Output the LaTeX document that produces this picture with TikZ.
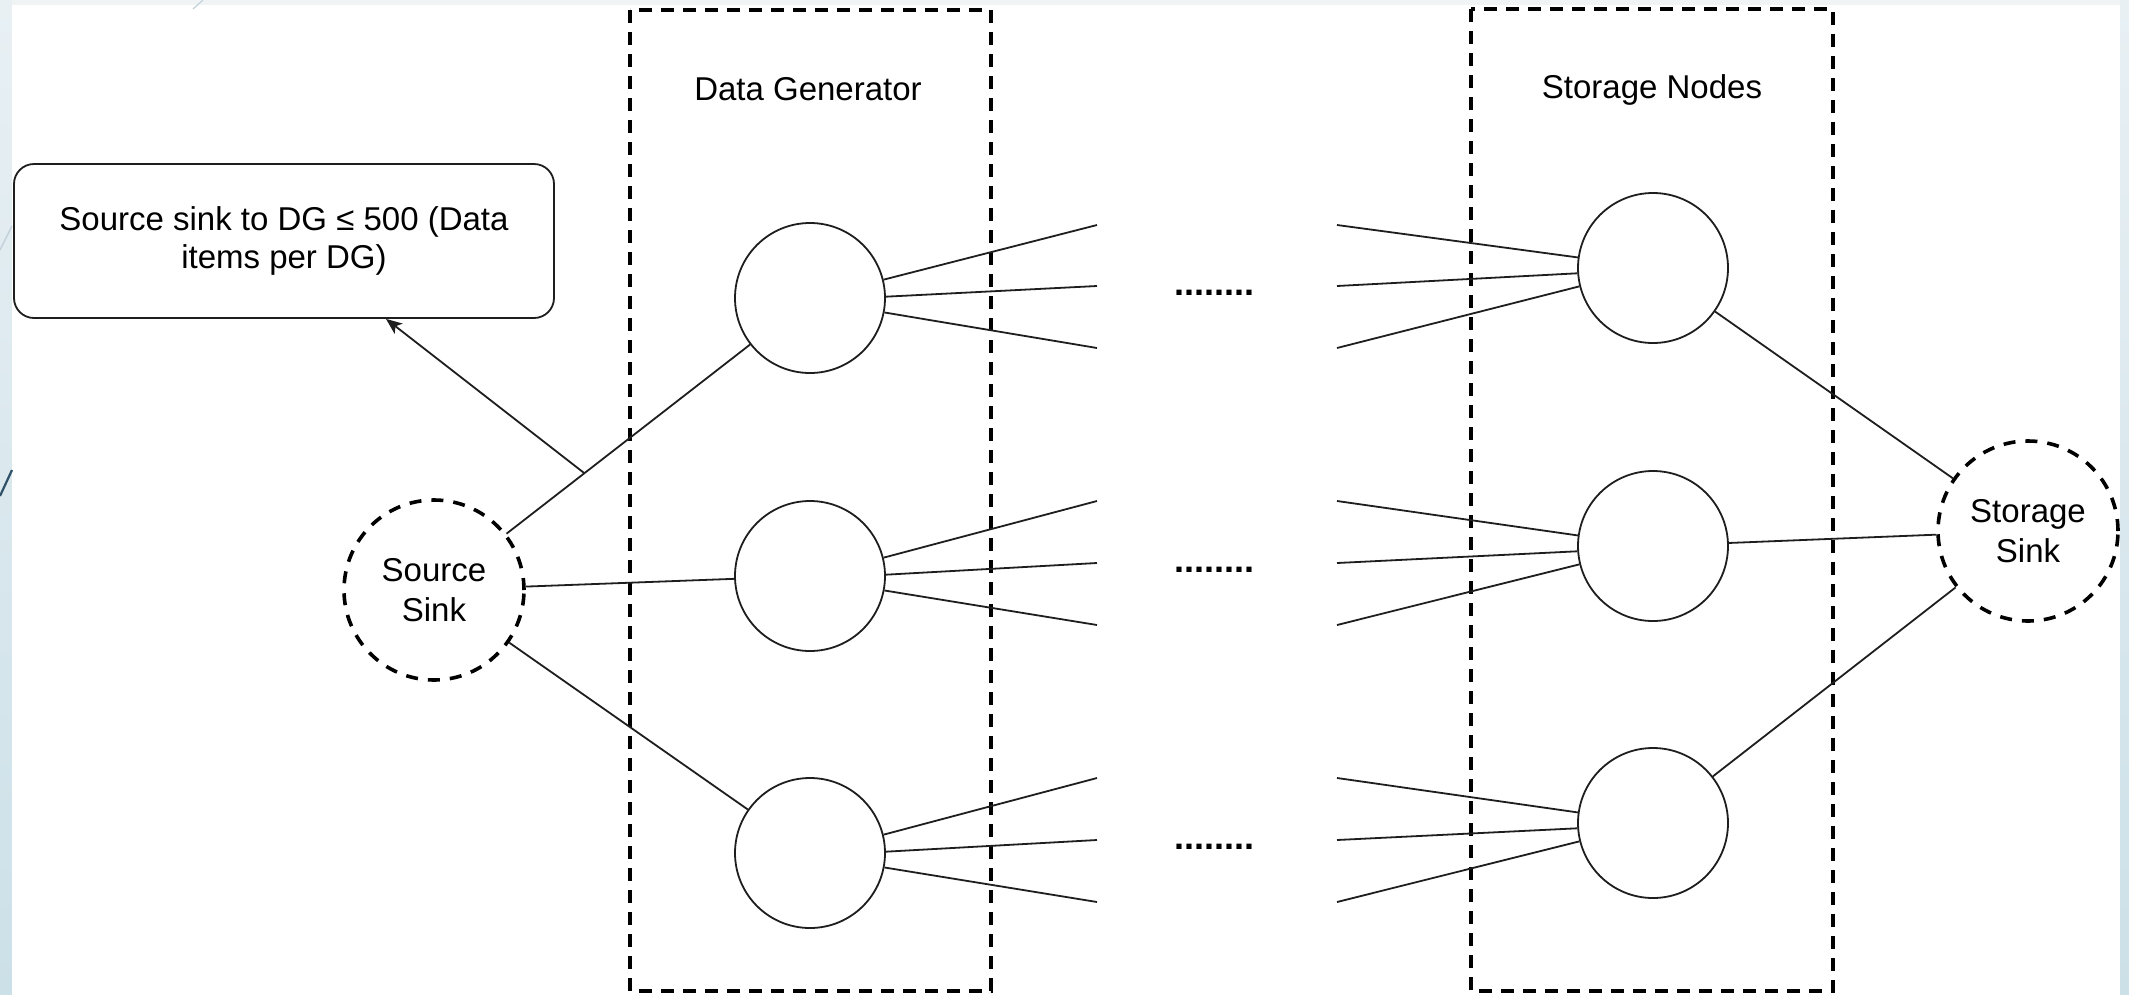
\documentclass[tikz,border=0pt]{standalone}
\usepackage{fontspec}
\setmainfont{Liberation Sans}
\usetikzlibrary{arrows.meta,calc}
\definecolor{stripTop}{HTML}{E8F0F4}
\definecolor{stripBot}{HTML}{CCE0E8}
\definecolor{topStrip}{HTML}{F1F4F5}
\definecolor{decoDark}{HTML}{2E5068}
\definecolor{decoLight}{HTML}{C3D2DA}
\definecolor{ink}{HTML}{1E1E1E}
\begin{document}
\begin{tikzpicture}[x=1pt,y=-1pt,
  conn/.style={line width=1.8pt, draw=ink},
  groupbox/.style={draw=black, line width=3.6pt, dash pattern=on 13pt off 9pt},
  dgnode/.style={circle, draw=ink, line width=1.8pt, minimum size=150pt, inner sep=0pt},
  sinknode/.style={circle, draw=black, line width=3.6pt, dash pattern=on 12pt off 10pt,
    minimum size=180pt, inner sep=0pt, align=center, font=\fontsize{33}{40}\selectfont},
  titletext/.style={font=\fontsize{33}{40}\selectfont, inner sep=0pt},
  dotstext/.style={font=\fontsize{36}{40}\selectfont\bfseries, inner sep=0pt},
  labelbox/.style={draw=ink, line width=1.8pt, rounded corners=20pt, minimum width=540pt,
    minimum height=154pt, align=center, font=\fontsize{33}{38}\selectfont}
]
% background
\useasboundingbox (0,0) rectangle (2129,994);
\fill[topStrip] (0,0) rectangle (2129,994);
\shade[top color=stripTop, bottom color=stripBot] (0,0) rectangle (12,994);
\shade[top color=stripTop, bottom color=stripBot] (2120,0) rectangle (2129,994);
\fill[white] (12,5) rectangle (2120,994);
\draw[decoLight, line width=1.5pt] (0,250) -- (12,226);
\draw[decoLight, line width=1.2pt] (193,9) -- (203,0);
\draw[decoDark, line width=2.2pt] (0,496) -- (12,470);

% group boxes
\draw[groupbox] (630,10) rectangle (991,991);
\draw[groupbox] (1471,9) rectangle (1833,991);
\node[titletext] (tdg) at (808,89) {Data Generator};
\node[titletext] (tsn) at (1652,90) {Storage Nodes};

% nodes
\node[labelbox] (lbl) at (284,241) {Source sink to DG ≤ 500 (Data\\items per DG)};
\node[sinknode] (src) at (434,590) {Source\\Sink};
\node[sinknode] (sink) at (2028,531) {Storage\\Sink};
\node[dgnode] (dg1) at (810,298) {};
\node[dgnode] (dg2) at (810,576) {};
\node[dgnode] (dg3) at (810,853) {};
\node[dgnode] (sn1) at (1653,268) {};
\node[dgnode] (sn2) at (1653,546) {};
\node[dgnode] (sn3) at (1653,823) {};

% fan end coordinates and dots
\foreach \k/\ya/\yb/\yc in {1/225/286/348, 2/501/563/625, 3/778/840/902}{
  \coordinate (la\k) at (1097,\ya);
  \coordinate (lb\k) at (1097,\yb);
  \coordinate (lc\k) at (1097,\yc);
  \coordinate (ra\k) at (1337,\ya);
  \coordinate (rb\k) at (1337,\yb);
  \coordinate (rc\k) at (1337,\yc);
  \node[dotstext] (dots\k) at (1214,\yb+7) {........};
}

% fans
\foreach \k in {1,2,3}{
  \draw[conn] (dg\k.14) -- (la\k);
  \draw[conn] (dg\k.1) -- (lb\k);
  \draw[conn] (dg\k.-11) -- (lc\k);
  \draw[conn] (ra\k) -- (sn\k.172);
  \draw[conn] (rb\k) -- (sn\k.184);
  \draw[conn] (rc\k) -- (sn\k.194);
}

% source / sink links
\draw[conn] (src) -- (dg1);
\draw[conn] (src) -- (dg2);
\draw[conn] (src) -- (dg3);
\draw[conn] (sn1) -- (sink);
\draw[conn] (sn2) -- (sink);
\draw[conn] (sn3) -- (sink);

% arrow to label
\coordinate (am) at ($(src)!0.4!(dg1)$);
\coordinate (lbltip) at ($(lbl.south)+(102,0)$);
\draw[conn, -{Stealth[length=16pt, width=13pt, inset=4pt]}] (am) -- (lbltip);
\end{tikzpicture}
\end{document}
